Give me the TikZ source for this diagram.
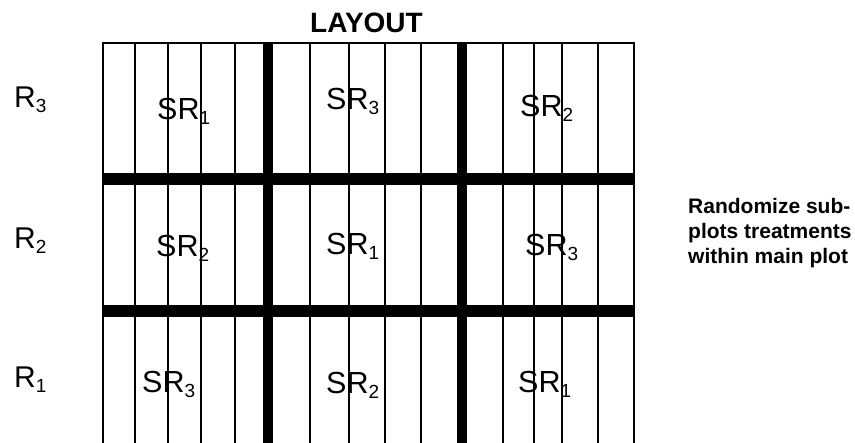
\documentclass[tikz,border=0pt]{standalone}
\usepackage{fontspec}
\setmainfont{Liberation Sans}
\usetikzlibrary{positioning}

\newcommand{\subidx}[1]{\raisebox{-5pt}{\fontsize{19}{19}\selectfont #1}}

\begin{document}
\begin{tikzpicture}[x=1pt, y=-1pt,
  thinrule/.style={line width=1.8pt},
  mainrule/.style={line width=10pt},
  bandrule/.style={line width=12pt},
  plotlab/.style={anchor=base west, inner sep=0pt, font=\fontsize{30.5}{30.5}\selectfont},
  replab/.style={anchor=base west, inner sep=0pt, font=\fontsize{30}{30}\selectfont}]
  \useasboundingbox (0,0) rectangle (855,443);
  % Title
  \node[anchor=base, inner sep=0pt, font=\fontsize{28}{28}\selectfont\bfseries]
    (title) at (366.5,33) {LAYOUT};
  % Sub-plot strips (thin lines), border on top
  \foreach \x in {103,135,168,201,235,310,349,385,421,503,534,562,598,634}
    \draw[thinrule] (\x,43) -- (\x,443);
  \draw[thinrule] (102,43) -- (635,43);
  % Main plot boundaries
  \draw[mainrule] (268,43) -- (268,443);
  \draw[mainrule] (461.5,43) -- (461.5,443);
  % Replicate boundaries
  \draw[bandrule] (102,179) -- (635,179);
  \draw[bandrule] (102,311.5) -- (635,311.5);
  % Replicate labels
  \node[replab] (r3) at (14,108) {R\subidx{3}};
  \node[replab] (r2) at (14,249) {R\subidx{2}};
  \node[replab] (r1) at (14,388) {R\subidx{1}};
  % Main plot labels, row R3
  \node[plotlab] (p31) at (157,120) {SR\subidx{1}};
  \node[plotlab] (p32) at (326,110) {SR\subidx{3}};
  \node[plotlab] (p33) at (520,117) {SR\subidx{2}};
  % row R2
  \node[plotlab] (p21) at (156,257) {SR\subidx{2}};
  \node[plotlab] (p22) at (326,255) {SR\subidx{1}};
  \node[plotlab] (p23) at (525,256) {SR\subidx{3}};
  % row R1
  \node[plotlab] (p11) at (142,393) {SR\subidx{3}};
  \node[plotlab] (p12) at (326,394) {SR\subidx{2}};
  \node[plotlab] (p13) at (518,393) {SR\subidx{1}};
  % Note on the right
  \node[anchor=north west, inner sep=0pt, align=left,
        font=\fontsize{21}{25}\selectfont\bfseries]
    (note) at (688,198) {Randomize sub-\\plots treatments\\within main plot};
\end{tikzpicture}
\end{document}
